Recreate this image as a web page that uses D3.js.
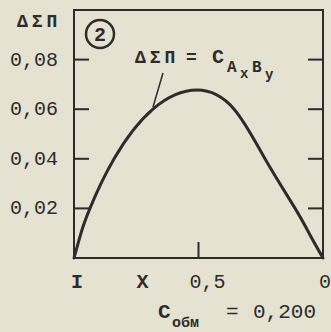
<!DOCTYPE html>
<html>
<head>
<meta charset="utf-8">
<script src="https://cdn.jsdelivr.net/npm/d3@7/dist/d3.min.js"></script>
<style>
  html, body { margin: 0; padding: 0; background: #e5e2d2; }
  svg { display: block; }
  text { font-family: "Liberation Mono", "DejaVu Sans Mono", monospace; fill: #2e2c2a; }
</style>
</head>
<body>
<svg id="chart" width="331" height="332"></svg>
<script>
// Composition fraction (1 at left, 0 at right) and excess ΔΣΠ
const composition = [1.0, 0.972, 0.936, 0.839, 0.683, 0.506, 0.357, 0.233, 0.112, 0.056, 0.0];
const deltaSigma  = [0.0, 0.010, 0.020, 0.040, 0.060, 0.0677, 0.060, 0.040, 0.020, 0.010, 0.0];

const yTicks = [0.02, 0.04, 0.06, 0.08];
const yTickLabels = ["0,02", "0,04", "0,06", "0,08"];
const xTicks = [1, 0.5, 0];
const xTickLabels = ["I", "0,5", "0"];
const xVarPos = 0.725;   // where the "X" variable letter sits on the axis

const svg = d3.select("#chart");
const ink = "#2e2c2a";

const plot = { left: 74, right: 323, top: 10, bottom: 258 };
const x = d3.scaleLinear().domain([1, 0]).range([plot.left, plot.right]);
const y = d3.scaleLinear().domain([0, 0.1]).range([plot.bottom, plot.top]);

// Frame
svg.append("rect")
  .attr("x", plot.left).attr("y", plot.top)
  .attr("width", plot.right - plot.left).attr("height", plot.bottom - plot.top)
  .attr("fill", "none").attr("stroke", ink).attr("stroke-width", 2);

// Inward ticks on left and right sides
const tickLen = 15;
svg.selectAll(".ytl").data(yTicks).join("line")
  .attr("x1", plot.left).attr("x2", plot.left + tickLen)
  .attr("y1", d => y(d)).attr("y2", d => y(d))
  .attr("stroke", ink).attr("stroke-width", 2);
svg.selectAll(".ytr").data(yTicks).join("line")
  .attr("x1", plot.right).attr("x2", plot.right - tickLen)
  .attr("y1", d => y(d)).attr("y2", d => y(d))
  .attr("stroke", ink).attr("stroke-width", 2);

// Bottom tick at the middle
svg.append("line")
  .attr("x1", x(0.5)).attr("x2", x(0.5))
  .attr("y1", plot.bottom).attr("y2", plot.bottom - 16)
  .attr("stroke", ink).attr("stroke-width", 2);

// Y tick labels
svg.selectAll(".ylab").data(yTicks).join("text")
  .attr("x", 58).attr("y", d => y(d))
  .attr("dy", "0.3em")
  .attr("text-anchor", "end")
  .attr("font-size", 20)
  .text((d, i) => yTickLabels[i]);

// Y title
svg.append("text")
  .attr("x", 17).attr("y", 27)
  .attr("font-size", 18)
  .attr("font-weight", "bold")
  .attr("letter-spacing", 4)
  .text("ΔΣΠ");

// X tick labels
const xLabelShift = [3, 9, 2];
svg.selectAll(".xlab").data(xTicks).join("text")
  .attr("x", (d, i) => x(d) + xLabelShift[i])
  .attr("y", 288)
  .attr("text-anchor", "middle")
  .attr("font-size", 20)
  .attr("font-weight", (d, i) => i === 0 ? "bold" : "normal")
  .text((d, i) => xTickLabels[i]);

svg.append("text")
  .attr("x", x(xVarPos)).attr("y", 288)
  .attr("text-anchor", "middle")
  .attr("font-size", 20)
  .attr("font-weight", "bold")
  .text("X");

// X axis title: C_обм = 0,200
const xt = svg.append("text").attr("y", 318).attr("font-size", 21);
xt.append("tspan").attr("x", 158).attr("font-weight", "bold").text("C");
xt.append("tspan").attr("x", 172).attr("font-size", 15).attr("font-weight", "bold").attr("dy", 9).text("обм");
xt.append("tspan").attr("x", 226).attr("dy", -9).text("=");
xt.append("tspan").attr("x", 253).text("0,200");

// Curve
const line = d3.line()
  .x((d, i) => x(composition[i]))
  .y(d => y(d))
  .curve(d3.curveNatural);
svg.append("path")
  .datum(deltaSigma)
  .attr("d", line)
  .attr("fill", "none")
  .attr("stroke", ink)
  .attr("stroke-width", 3)
  .attr("stroke-linecap", "round");

// Curve annotation
const ann = svg.append("text").attr("y", 63).attr("font-size", 18);
ann.append("tspan").attr("x", 135).attr("font-weight", "bold").attr("letter-spacing", 4).text("ΔΣΠ");
ann.append("tspan").attr("x", 186).attr("font-weight", "bold").text("=");
ann.append("tspan").attr("x", 212).attr("font-size", 20).attr("font-weight", "bold").text("C");
ann.append("tspan").attr("x", 227).attr("font-size", 16).attr("font-weight", "bold").attr("dy", 9).text("A");
ann.append("tspan").attr("x", 240).attr("font-size", 14).attr("font-weight", "bold").attr("dy", 6).text("x");
ann.append("tspan").attr("x", 252).attr("font-size", 16).attr("font-weight", "bold").attr("dy", -6).text("B");
ann.append("tspan").attr("x", 265).attr("font-size", 14).attr("font-weight", "bold").attr("dy", 7).text("y");

svg.append("line")
  .attr("x1", 163).attr("y1", 73)
  .attr("x2", 153).attr("y2", 107)
  .attr("stroke", ink).attr("stroke-width", 1.5);

// Panel number in a circle
svg.append("circle")
  .attr("cx", 100).attr("cy", 34).attr("r", 14)
  .attr("fill", "none").attr("stroke", ink).attr("stroke-width", 2.5);
svg.append("text")
  .attr("x", 100).attr("y", 34).attr("dy", "0.36em")
  .attr("text-anchor", "middle")
  .attr("font-size", 20).attr("font-weight", "bold")
  .text("2");
</script>
</body>
</html>
